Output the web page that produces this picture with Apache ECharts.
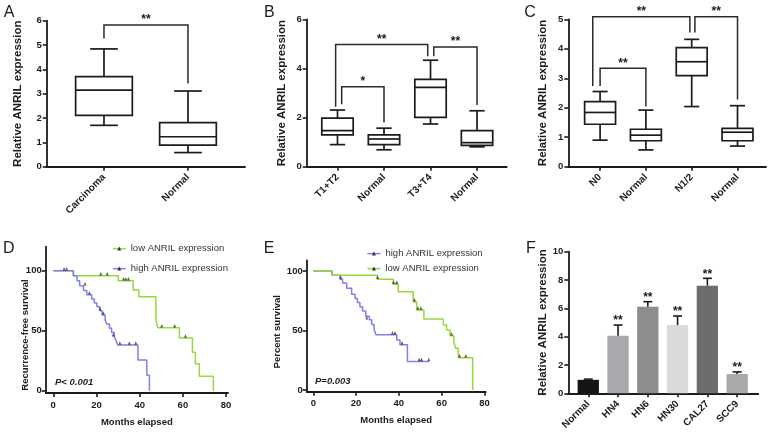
<!DOCTYPE html>
<html><head><meta charset="utf-8">
<script src="https://cdn.jsdelivr.net/npm/echarts@6/dist/echarts.min.js"></script>
<style>html,body{margin:0;padding:0;background:#fff}#c{width:772px;height:442px}</style>
</head><body><div id="c"></div>
<script>
// ================= DATA =================
// Box panels: [min, Q1, median, Q3, max]
const catsA = ['Carcinoma', 'Normal'];
const boxA = [[1.70, 2.11, 3.15, 3.70, 4.84], [0.58, 0.89, 1.23, 1.81, 3.11]];
// significance brackets: [xLeft, xRight, yTop, yLeftEnd, yRightEnd]
const sigA = [[0, 1, 5.82, 5.27, 3.42]];
const sigLabelsA = ['**'];

const catsB = ['T1+T2', 'Normal', 'T3+T4', 'Normal'];
const boxB = [[0.90, 1.30, 1.47, 1.98, 2.31], [0.69, 0.90, 1.13, 1.30, 1.57],
              [1.74, 2.01, 3.23, 3.56, 4.34], [0.81, 0.87, 0.98, 1.47, 2.28]];
const sigB = [[0.09, 1, 3.26, 2.55, 1.80], [-0.04, 1.94, 4.98, 2.44, 4.50], [2.07, 3, 4.88, 4.50, 2.51]];
const sigLabelsB = ['*', '**', '**'];

const catsC = ['N0', 'Normal', 'N1/2', 'Normal'];
const boxC = [[0.90, 1.44, 1.84, 2.21, 2.55], [0.57, 0.88, 1.07, 1.27, 1.92],
              [2.04, 3.09, 3.56, 4.04, 4.32], [0.70, 0.88, 1.17, 1.30, 2.07]];
const sigC = [[-0.16, 1.96, 5.09, 2.74, 4.55], [2.07, 3, 5.09, 4.55, 2.28], [0, 1, 3.34, 2.74, 2.04]];
const sigLabelsC = ['**', '**', '**'];

// Kaplan-Meier panels: [month, survival %]
const monthTicks = [0, 20, 40, 60, 80];
const survTicks = [0, 50, 100];
const dLow = [[0,100],[9.3,95.8],[30.1,91.7],[37,84],[39.6,78.3],[47.5,59],[48.3,52.5],[58.4,44],[64.4,32],[65.8,22.5],[67.6,12],[74.1,0]];
const dLowCens = [[5,100],[6.2,100],[22,95.8],[25,95.8],[32.5,91.7],[33.6,91.7],[34.8,91.7],[50.2,52.5],[56.2,52.5],[61.2,44]];
const dHigh = [[0,100],[9.3,95.8],[11,91.7],[12.2,87.5],[14,83.5],[15.5,80],[17.8,76.5],[19,73],[20.2,70],[21.6,66.7],[22.6,63],[24,59],[24.8,55.5],[26,52],[27,48.5],[28.2,45],[29,42],[29.8,38],[39.2,25.5],[43.3,12.8],[44.5,0]];
const dHighCens = [[14.7,87.5],[16.7,80],[21.6,66.7],[23.2,63],[27.8,45],[30.8,38],[35.2,38],[38.2,38]];

const eHigh = [[0,100],[8.8,96.5],[12.5,93],[13.7,90],[15.6,85.5],[17.9,80.5],[19.5,77],[20.6,73.5],[21.8,70],[23,66.5],[24.5,62],[26.2,59],[27.3,55],[28.4,51],[29.3,46.5],[39,42],[40.5,38],[44,24],[54,24]];
const eHighCens = [[12.8,93],[25,59],[37,46.5],[38.2,46.5],[41.5,38],[49.5,24],[50.6,24],[54,24]];
const eLow = [[0,100],[8.6,96.5],[29.9,93],[37.4,88.8],[39.7,82.6],[46.7,74.2],[48.3,67.2],[51.7,59.7],[60.8,54.6],[62.3,50.4],[63.9,45.6],[65.7,40.6],[66.5,35],[67.8,27.2],[74.5,0]];
const eLowCens = [[30.1,93],[37.5,88.8],[39,88.8],[47.3,74.2],[48.9,67.2],[50.3,67.2],[64.6,45.6],[68.4,27.2],[71.3,27.2]];

// Bar panel F
const fCats = ['Normal', 'HN4', 'HN6', 'HN30', 'CAL27', 'SCC9'];
const fMeans = [0.95, 4.07, 6.12, 4.82, 7.60, 1.36];
const fErr = [0.05, 0.75, 0.35, 0.64, 0.52, 0.15];
const fSig = ['', '**', '**', '**', '**', '**'];

// ================= STYLE =================
const FONT = "'Liberation Sans', Arial, Helvetica, sans-serif";
const INK = '#1b1b1b';
const GREEN = '#97d83c', BLUE = '#7f80ea';
const fPalette = ['#141414', '#a9a9ad', '#8d8d90', '#dadada', '#6d6d6f', '#a9a9a9'];

const chart = echarts.init(document.getElementById('c'));

function catXAxis(gi, min, max, cats) {
  const vals = cats.map((_, i) => i);
  return {
    type: 'value', gridIndex: gi, min, max,
    axisLine: { show: true, onZero: false, lineStyle: { color: INK, width: 1.8 } },
    axisTick: { show: true, length: 4, customValues: vals, lineStyle: { color: INK, width: 1.6 } },
    axisLabel: { show: true, customValues: vals, rotate: 45, margin: 9,
      formatter: v => cats[Math.round(v)], color: INK, fontFamily: FONT, fontWeight: 'bold', fontSize: 10 },
    splitLine: { show: false }
  };
}
function valXAxis(gi, min, max, ticks, name) {
  return {
    type: 'value', gridIndex: gi, min, max,
    name, nameLocation: 'middle', nameGap: 24,
    nameTextStyle: { color: INK, fontFamily: FONT, fontWeight: 'bold', fontSize: 9.5 },
    axisLine: { show: true, onZero: false, lineStyle: { color: INK, width: 1.8 } },
    axisTick: { show: true, length: 4, customValues: ticks, lineStyle: { color: INK, width: 1.6 } },
    axisLabel: { show: true, customValues: ticks, margin: 7, color: INK, fontFamily: FONT, fontWeight: 'bold', fontSize: 9.5 },
    splitLine: { show: false }
  };
}
function yAx(gi, min, max, interval, name, nameGap, ticks) {
  const ax = {
    type: 'value', gridIndex: gi, min, max,
    axisLine: { show: true, onZero: false, lineStyle: { color: INK, width: 1.8 } },
    axisTick: { show: true, length: 4, lineStyle: { color: INK, width: 1.6 } },
    axisLabel: { show: true, margin: 5, color: INK, fontFamily: FONT, fontWeight: 'bold', fontSize: 9.5 },
    splitLine: { show: false }
  };
  if (interval) ax.interval = interval;
  if (ticks) { ax.axisTick.customValues = ticks; ax.axisLabel.customValues = ticks; ax.axisLabel.margin = 4; }
  if (name) {
    ax.name = name; ax.nameLocation = 'middle'; ax.nameGap = nameGap;
    ax.nameTextStyle = { color: INK, fontFamily: FONT, fontWeight: 'bold', fontSize: 11.5 };
  }
  return ax;
}

function boxSeries(gi, stats) {
  return {
    type: 'custom', xAxisIndex: gi, yAxisIndex: gi, clip: false, silent: true,
    data: stats.map((s, i) => [i].concat(s)),
    encode: { x: 0, y: [1, 2, 3, 4, 5] },
    renderItem: (params, api) => {
      const x = api.value(0);
      const pMin = api.coord([x, api.value(1)]), pQ1 = api.coord([x, api.value(2)]);
      const pMd = api.coord([x, api.value(3)]), pQ3 = api.coord([x, api.value(4)]);
      const pMax = api.coord([x, api.value(5)]);
      const w = api.size([0.675, 0])[0], cw = api.size([0.33, 0])[0];
      const cx = pMin[0];
      const st = { stroke: INK, lineWidth: 1.7, fill: 'none' };
      const ln = (x1, y1, x2, y2) => ({ type: 'line', shape: { x1, y1, x2, y2 }, style: st });
      return { type: 'group', children: [
        { type: 'rect', shape: { x: cx - w / 2, y: pQ3[1], width: w, height: pQ1[1] - pQ3[1] }, style: st },
        ln(cx - w / 2, pMd[1], cx + w / 2, pMd[1]),
        ln(cx, pQ3[1], cx, pMax[1]),
        ln(cx, pQ1[1], cx, pMin[1]),
        ln(cx - cw / 2, pMax[1], cx + cw / 2, pMax[1]),
        ln(cx - cw / 2, pMin[1], cx + cw / 2, pMin[1])
      ] };
    }
  };
}
function sigSeries(gi, sig, labels) {
  return {
    type: 'custom', xAxisIndex: gi, yAxisIndex: gi, clip: false, silent: true, z: 3,
    data: sig, encode: { x: [0, 1], y: [2, 3, 4] },
    renderItem: (params, api) => {
      const x1 = api.value(0), x2 = api.value(1), yt = api.value(2);
      const p1 = api.coord([x1, api.value(3)]), p2 = api.coord([x1, yt]);
      const p3 = api.coord([x2, yt]), p4 = api.coord([x2, api.value(4)]);
      return { type: 'group', children: [
        { type: 'polyline', shape: { points: [p1, p2, p3, p4] }, style: { stroke: '#2a2a2a', lineWidth: 1.5, fill: 'none' } },
        { type: 'text', x: (p2[0] + p3[0]) / 2, y: p2[1] - 5,
          style: { text: labels[params.dataIndex], fill: INK, font: 'bold 12px ' + FONT, align: 'center', verticalAlign: 'middle' } }
      ] };
    }
  };
}
function kmLine(gi, name, steps, color) {
  return { type: 'line', name, xAxisIndex: gi, yAxisIndex: gi, data: steps, step: 'end',
    showSymbol: false, symbol: 'triangle', symbolSize: 4, silent: true, z: 2,
    lineStyle: { color, width: 1.5 }, itemStyle: { color: '#333' } };
}
function kmCens(gi, pts) {
  return { type: 'scatter', xAxisIndex: gi, yAxisIndex: gi, data: pts, silent: true, z: 3,
    symbol: 'triangle', symbolSize: [3, 3.5], symbolOffset: [0, -2], itemStyle: { color: '#333' } };
}
function legendFor(name, left, top, color) {
  return { data: [name], left, top, orient: 'vertical', padding: 0, itemWidth: 13, itemHeight: 5,
    selectedMode: false, textStyle: { fontFamily: FONT, fontSize: 9.5, color: '#333' },
    itemStyle: { color: '#333', borderWidth: 0 }, lineStyle: { color, width: 1.5 } };
}
const txt = (text, x, y, font, extra) => Object.assign({ type: 'text', x, y,
  style: { text, font, fill: INK, align: 'center', verticalAlign: 'middle' } }, extra || {});

const option = {
  animation: false,
  backgroundColor: '#fff',
  grid: [
    { left: 46.7, top: 20.7, width: 198.3, height: 146 },
    { left: 306.7, top: 19.5, width: 200, height: 147.2 },
    { left: 568.3, top: 19.3, width: 197.7, height: 147.4 },
    { left: 45.7, top: 246.7, width: 182.3, height: 146.4 },
    { left: 306.7, top: 260.3, width: 179, height: 131.5 },
    { left: 568.3, top: 251.7, width: 190, height: 141.6 }
  ],
  xAxis: [
    catXAxis(0, -0.682, 1.679, catsA),
    catXAxis(1, -0.662, 3.638, catsB),
    catXAxis(2, -0.694, 3.622, catsC),
    valXAxis(3, -3.5, 80.88, monthTicks, 'Months elapsed'),
    valXAxis(4, -3.1, 80.6, monthTicks, 'Months elapsed'),
    catXAxis(5, -0.67, 5.71, fCats)
  ],
  yAxis: [
    yAx(0, 0, 6, 1, 'Relative ANRIL expression', 22.5),
    yAx(1, 0, 6, 2, 'Relative ANRIL expression', 19),
    yAx(2, 0, 5, 1, 'Relative ANRIL expression', 19),
    yAx(3, -2, 120, null, null, 0, survTicks),
    yAx(4, -1.5, 109, null, null, 0, survTicks),
    yAx(5, 0, 10, 2, 'Relative ANRIL expression', 19.5)
  ],
  legend: [
    legendFor('low ANRIL expression', 112, 243.6, GREEN),
    legendFor('high ANRIL expression', 112, 263.6, BLUE),
    legendFor('high ANRIL expression', 366.7, 248.6, BLUE),
    legendFor('low ANRIL expression', 366.7, 263.6, GREEN)
  ],
  series: [
    boxSeries(0, boxA), sigSeries(0, sigA, sigLabelsA),
    boxSeries(1, boxB), sigSeries(1, sigB, sigLabelsB),
    boxSeries(2, boxC), sigSeries(2, sigC, sigLabelsC),
    kmLine(3, 'low ANRIL expression', dLow, GREEN),
    kmLine(3, 'high ANRIL expression', dHigh, BLUE),
    kmCens(3, dLowCens), kmCens(3, dHighCens),
    kmLine(4, 'high ANRIL expression', eHigh, BLUE),
    kmLine(4, 'low ANRIL expression', eLow, GREEN),
    kmCens(4, eHighCens), kmCens(4, eLowCens),
    {
      type: 'custom', xAxisIndex: 5, yAxisIndex: 5, clip: false, silent: true,
      data: fMeans.map((m, i) => [i, m, fErr[i]]),
      encode: { x: 0, y: [1, 2] },
      renderItem: (params, api) => {
        const i = params.dataIndex;
        const x = api.value(0), v = api.value(1), e = api.value(2);
        const p0 = api.coord([x, 0]), p1 = api.coord([x, v]), p2 = api.coord([x, v + e]);
        const w = api.size([0.715, 0])[0], cw = api.size([0.3, 0])[0];
        const st = { stroke: INK, lineWidth: 1.6 };
        const kids = [
          { type: 'rect', shape: { x: p0[0] - w / 2, y: p1[1], width: w, height: p0[1] - p1[1] }, style: { fill: fPalette[i] } },
          { type: 'line', shape: { x1: p1[0], y1: p1[1], x2: p2[0], y2: p2[1] }, style: st },
          { type: 'line', shape: { x1: p2[0] - cw / 2, y1: p2[1], x2: p2[0] + cw / 2, y2: p2[1] }, style: st }
        ];
        if (fSig[i]) kids.push({ type: 'text', x: p2[0], y: p2[1] - 4,
          style: { text: fSig[i], fill: INK, font: 'bold 12px ' + FONT, align: 'center', verticalAlign: 'middle' } });
        return { type: 'group', children: kids };
      }
    }
  ],
  graphic: [
    txt('A', 9, 13, '16px ' + FONT),
    txt('B', 269.3, 13, '16px ' + FONT),
    txt('C', 530, 13, '16px ' + FONT),
    txt('D', 8.7, 249, '16px ' + FONT),
    txt('E', 269, 249, '16px ' + FONT),
    txt('F', 531, 249, '16px ' + FONT),
    { type: 'text', x: 55, y: 382, style: { text: 'P< 0.001', font: 'italic bold 9.5px ' + FONT, fill: INK, align: 'left', verticalAlign: 'middle' } },
    { type: 'text', x: 315, y: 381.7, style: { text: 'P=0.003', font: 'italic bold 9.5px ' + FONT, fill: INK, align: 'left', verticalAlign: 'middle' } },
    txt('Recurrence-free survival', 25, 335, 'bold 9.5px ' + FONT, { rotation: Math.PI / 2 }),
    txt('Percent survival', 277.7, 331.7, 'bold 9.5px ' + FONT, { rotation: Math.PI / 2 })
  ]
};
chart.setOption(option);
</script></body></html>
